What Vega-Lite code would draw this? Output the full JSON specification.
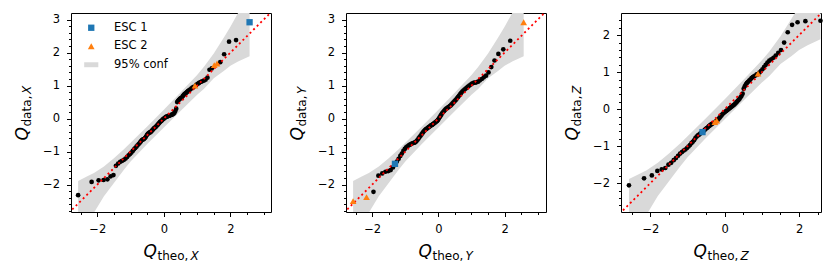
{
  "$schema": "https://vega.github.io/schema/vega-lite/v6.json",
  "padding": {"left": 12, "top": 12, "right": 5, "bottom": 5},
  "background": "white",
  "config": {
    "view": {"stroke": "#000", "strokeWidth": 1},
    "axis": {"grid": false, "domain": false, "tickColor": "#000", "tickWidth": 1, "labelColor": "#000", "labelFont": "DejaVu Sans", "labelFontSize": 11.5, "titleColor": "#000", "titleFont": "DejaVu Sans", "titleFontWeight": "normal"},
    "legend": {"labelFont": "DejaVu Sans", "labelFontSize": 11.5, "labelColor": "#000"}
  },
  "datasets": {
    "band": [
      {"x": -2.576, "lo": -3.62, "hi": -1.89},
      {"x": -2.3, "lo": -3.2, "hi": -1.75},
      {"x": -2.1, "lo": -2.85, "hi": -1.65},
      {"x": -1.8, "lo": -2.35, "hi": -1.45},
      {"x": -1.5, "lo": -1.95, "hi": -1.2},
      {"x": -1.2, "lo": -1.55, "hi": -0.93},
      {"x": -1.0, "lo": -1.3, "hi": -0.73},
      {"x": -0.5, "lo": -0.77, "hi": -0.24},
      {"x": 0, "lo": -0.27, "hi": 0.27},
      {"x": 0.5, "lo": 0.23, "hi": 0.79},
      {"x": 1.0, "lo": 0.72, "hi": 1.32},
      {"x": 1.2, "lo": 0.9, "hi": 1.56},
      {"x": 1.5, "lo": 1.22, "hi": 1.97},
      {"x": 1.8, "lo": 1.44, "hi": 2.45},
      {"x": 2.0, "lo": 1.6, "hi": 2.78},
      {"x": 2.23, "lo": 1.73, "hi": 3.2},
      {"x": 2.576, "lo": 1.89, "hi": 3.8}
    ],
    "diag": [{"x": -3.5, "y": -3.5}, {"x": 3.5, "y": 3.5}],
    "p1": [
      {"x": -2.576, "y": -2.32, "g": "data"}, {"x": -2.17, "y": -1.92, "g": "data"}, {"x": -1.96, "y": -1.87, "g": "data"}, {"x": -1.812, "y": -1.86, "g": "data"}, {"x": -1.695, "y": -1.84, "g": "data"},
      {"x": -1.598, "y": -1.75, "g": "data"}, {"x": -1.514, "y": -1.71, "g": "data"}, {"x": -1.44, "y": -1.43, "g": "data"}, {"x": -1.372, "y": -1.36, "g": "data"}, {"x": -1.311, "y": -1.31, "g": "data"},
      {"x": -1.254, "y": -1.28, "g": "data"}, {"x": -1.2, "y": -1.25, "g": "data"}, {"x": -1.15, "y": -1.21, "g": "data"}, {"x": -1.103, "y": -1.16, "g": "data"}, {"x": -1.058, "y": -1.11, "g": "data"},
      {"x": -1.015, "y": -1.07, "g": "data"}, {"x": -0.974, "y": -1.03, "g": "data"}, {"x": -0.935, "y": -0.98, "g": "data"}, {"x": -0.896, "y": -0.93, "g": "data"}, {"x": -0.86, "y": -0.89, "g": "data"},
      {"x": -0.824, "y": -0.85, "g": "data"}, {"x": -0.789, "y": -0.81, "g": "data"}, {"x": -0.755, "y": -0.77, "g": "data"}, {"x": -0.722, "y": -0.73, "g": "data"}, {"x": -0.69, "y": -0.69, "g": "data"},
      {"x": -0.659, "y": -0.65, "g": "data"}, {"x": -0.628, "y": -0.63, "g": "data"}, {"x": -0.598, "y": -0.62, "g": "data"}, {"x": -0.568, "y": -0.59, "g": "data"}, {"x": -0.539, "y": -0.55, "g": "data"},
      {"x": -0.51, "y": -0.5, "g": "data"}, {"x": -0.482, "y": -0.46, "g": "data"}, {"x": -0.454, "y": -0.44, "g": "data"}, {"x": -0.426, "y": -0.42, "g": "data"}, {"x": -0.399, "y": -0.41, "g": "data"},
      {"x": -0.372, "y": -0.38, "g": "data"}, {"x": -0.345, "y": -0.35, "g": "data"}, {"x": -0.319, "y": -0.32, "g": "data"}, {"x": -0.292, "y": -0.29, "g": "data"}, {"x": -0.266, "y": -0.27, "g": "data"},
      {"x": -0.24, "y": -0.25, "g": "data"}, {"x": -0.215, "y": -0.22, "g": "data"}, {"x": -0.189, "y": -0.19, "g": "data"}, {"x": -0.164, "y": -0.16, "g": "data"}, {"x": -0.138, "y": -0.13, "g": "data"},
      {"x": -0.113, "y": -0.1, "g": "data"}, {"x": -0.088, "y": -0.08, "g": "data"}, {"x": -0.063, "y": -0.06, "g": "data"}, {"x": -0.038, "y": -0.03, "g": "data"}, {"x": -0.013, "y": -0.01, "g": "data"},
      {"x": 0.013, "y": 0.01, "g": "data"}, {"x": 0.038, "y": 0.03, "g": "data"}, {"x": 0.063, "y": 0.05, "g": "data"}, {"x": 0.088, "y": 0.06, "g": "data"}, {"x": 0.113, "y": 0.07, "g": "data"},
      {"x": 0.138, "y": 0.08, "g": "data"}, {"x": 0.164, "y": 0.09, "g": "data"}, {"x": 0.189, "y": 0.1, "g": "data"}, {"x": 0.215, "y": 0.11, "g": "data"}, {"x": 0.24, "y": 0.12, "g": "data"},
      {"x": 0.266, "y": 0.13, "g": "data"}, {"x": 0.292, "y": 0.15, "g": "data"}, {"x": 0.319, "y": 0.18, "g": "data"}, {"x": 0.345, "y": 0.23, "g": "data"}, {"x": 0.372, "y": 0.3, "g": "data"},
      {"x": 0.399, "y": 0.5, "g": "data"}, {"x": 0.426, "y": 0.54, "g": "data"}, {"x": 0.454, "y": 0.57, "g": "data"}, {"x": 0.482, "y": 0.6, "g": "data"}, {"x": 0.51, "y": 0.62, "g": "data"},
      {"x": 0.539, "y": 0.64, "g": "data"}, {"x": 0.568, "y": 0.68, "g": "data"}, {"x": 0.598, "y": 0.72, "g": "data"}, {"x": 0.628, "y": 0.75, "g": "data"}, {"x": 0.659, "y": 0.77, "g": "data"},
      {"x": 0.69, "y": 0.8, "g": "data"}, {"x": 0.722, "y": 0.83, "g": "data"}, {"x": 0.755, "y": 0.86, "g": "data"}, {"x": 0.789, "y": 0.88, "g": "data"}, {"x": 0.824, "y": 0.91, "g": "data"},
      {"x": 0.86, "y": 0.94, "g": "data"}, {"x": 0.896, "y": 0.96, "g": "data"}, {"x": 0.935, "y": 1.0, "g": "ESC 2"}, {"x": 0.974, "y": 1.02, "g": "data"}, {"x": 1.015, "y": 1.05, "g": "data"},
      {"x": 1.058, "y": 1.08, "g": "data"}, {"x": 1.103, "y": 1.11, "g": "data"}, {"x": 1.15, "y": 1.13, "g": "data"}, {"x": 1.2, "y": 1.15, "g": "data"}, {"x": 1.254, "y": 1.18, "g": "data"},
      {"x": 1.311, "y": 1.24, "g": "data"}, {"x": 1.372, "y": 1.48, "g": "data"}, {"x": 1.44, "y": 1.52, "g": "data"}, {"x": 1.514, "y": 1.62, "g": "ESC 2"}, {"x": 1.598, "y": 1.67, "g": "ESC 2"},
      {"x": 1.695, "y": 1.71, "g": "data"}, {"x": 1.812, "y": 1.95, "g": "data"}, {"x": 1.96, "y": 2.33, "g": "data"}, {"x": 2.17, "y": 2.38, "g": "data"}, {"x": 2.576, "y": 2.92, "g": "ESC 1"}
    ],
    "p2": [
      {"x": -2.576, "y": -2.5, "g": "ESC 2"}, {"x": -2.17, "y": -2.38, "g": "ESC 2"}, {"x": -1.96, "y": -2.22, "g": "data"}, {"x": -1.812, "y": -1.73, "g": "data"}, {"x": -1.695, "y": -1.66, "g": "data"},
      {"x": -1.598, "y": -1.61, "g": "data"}, {"x": -1.514, "y": -1.59, "g": "data"}, {"x": -1.44, "y": -1.56, "g": "data"}, {"x": -1.372, "y": -1.48, "g": "data"}, {"x": -1.311, "y": -1.37, "g": "ESC 1"},
      {"x": -1.254, "y": -1.3, "g": "data"}, {"x": -1.2, "y": -1.22, "g": "data"}, {"x": -1.15, "y": -1.13, "g": "data"}, {"x": -1.103, "y": -1.06, "g": "data"}, {"x": -1.058, "y": -0.98, "g": "data"},
      {"x": -1.015, "y": -0.92, "g": "data"}, {"x": -0.974, "y": -0.87, "g": "data"}, {"x": -0.935, "y": -0.84, "g": "data"}, {"x": -0.896, "y": -0.81, "g": "data"}, {"x": -0.86, "y": -0.79, "g": "data"},
      {"x": -0.824, "y": -0.77, "g": "data"}, {"x": -0.789, "y": -0.75, "g": "data"}, {"x": -0.755, "y": -0.74, "g": "data"}, {"x": -0.722, "y": -0.73, "g": "data"}, {"x": -0.69, "y": -0.71, "g": "data"},
      {"x": -0.659, "y": -0.68, "g": "data"}, {"x": -0.628, "y": -0.64, "g": "data"}, {"x": -0.598, "y": -0.6, "g": "data"}, {"x": -0.568, "y": -0.56, "g": "data"}, {"x": -0.539, "y": -0.52, "g": "data"},
      {"x": -0.51, "y": -0.48, "g": "data"}, {"x": -0.482, "y": -0.44, "g": "data"}, {"x": -0.454, "y": -0.4, "g": "data"}, {"x": -0.426, "y": -0.37, "g": "data"}, {"x": -0.399, "y": -0.34, "g": "data"},
      {"x": -0.372, "y": -0.32, "g": "data"}, {"x": -0.345, "y": -0.3, "g": "data"}, {"x": -0.319, "y": -0.28, "g": "data"}, {"x": -0.292, "y": -0.26, "g": "data"}, {"x": -0.266, "y": -0.24, "g": "data"},
      {"x": -0.24, "y": -0.22, "g": "data"}, {"x": -0.215, "y": -0.2, "g": "data"}, {"x": -0.189, "y": -0.19, "g": "data"}, {"x": -0.164, "y": -0.17, "g": "data"}, {"x": -0.138, "y": -0.15, "g": "data"},
      {"x": -0.113, "y": -0.13, "g": "data"}, {"x": -0.088, "y": -0.11, "g": "data"}, {"x": -0.063, "y": -0.09, "g": "data"}, {"x": -0.038, "y": -0.07, "g": "data"}, {"x": -0.013, "y": -0.04, "g": "data"},
      {"x": 0.013, "y": 0.0, "g": "data"}, {"x": 0.038, "y": 0.04, "g": "data"}, {"x": 0.063, "y": 0.08, "g": "data"}, {"x": 0.088, "y": 0.12, "g": "data"}, {"x": 0.113, "y": 0.16, "g": "data"},
      {"x": 0.138, "y": 0.19, "g": "data"}, {"x": 0.164, "y": 0.22, "g": "data"}, {"x": 0.189, "y": 0.25, "g": "data"}, {"x": 0.215, "y": 0.28, "g": "data"}, {"x": 0.24, "y": 0.3, "g": "data"},
      {"x": 0.266, "y": 0.32, "g": "data"}, {"x": 0.292, "y": 0.34, "g": "data"}, {"x": 0.319, "y": 0.36, "g": "data"}, {"x": 0.345, "y": 0.38, "g": "data"}, {"x": 0.372, "y": 0.4, "g": "data"},
      {"x": 0.399, "y": 0.43, "g": "data"}, {"x": 0.426, "y": 0.46, "g": "data"}, {"x": 0.454, "y": 0.49, "g": "data"}, {"x": 0.482, "y": 0.52, "g": "data"}, {"x": 0.51, "y": 0.55, "g": "data"},
      {"x": 0.539, "y": 0.58, "g": "data"}, {"x": 0.568, "y": 0.62, "g": "data"}, {"x": 0.598, "y": 0.66, "g": "data"}, {"x": 0.628, "y": 0.7, "g": "data"}, {"x": 0.659, "y": 0.74, "g": "data"},
      {"x": 0.69, "y": 0.78, "g": "data"}, {"x": 0.722, "y": 0.82, "g": "data"}, {"x": 0.755, "y": 0.85, "g": "data"}, {"x": 0.789, "y": 0.88, "g": "data"}, {"x": 0.824, "y": 0.91, "g": "data"},
      {"x": 0.86, "y": 0.94, "g": "data"}, {"x": 0.896, "y": 0.97, "g": "data"}, {"x": 0.935, "y": 1.0, "g": "data"}, {"x": 0.974, "y": 1.03, "g": "data"}, {"x": 1.015, "y": 1.06, "g": "data"},
      {"x": 1.058, "y": 1.08, "g": "data"}, {"x": 1.103, "y": 1.09, "g": "data"}, {"x": 1.15, "y": 1.1, "g": "data"}, {"x": 1.2, "y": 1.12, "g": "data"}, {"x": 1.254, "y": 1.16, "g": "data"},
      {"x": 1.311, "y": 1.2, "g": "data"}, {"x": 1.372, "y": 1.25, "g": "data"}, {"x": 1.44, "y": 1.3, "g": "data"}, {"x": 1.514, "y": 1.4, "g": "data"}, {"x": 1.598, "y": 1.56, "g": "data"},
      {"x": 1.695, "y": 1.76, "g": "data"}, {"x": 1.812, "y": 1.96, "g": "data"}, {"x": 1.96, "y": 2.1, "g": "data"}, {"x": 2.17, "y": 2.36, "g": "data"}, {"x": 2.576, "y": 2.92, "g": "ESC 2"}
    ],
    "p3": [
      {"x": -2.576, "y": -2.06, "g": "data"}, {"x": -2.17, "y": -1.87, "g": "data"}, {"x": -1.96, "y": -1.79, "g": "data"}, {"x": -1.812, "y": -1.67, "g": "data"}, {"x": -1.695, "y": -1.63, "g": "data"},
      {"x": -1.598, "y": -1.59, "g": "data"}, {"x": -1.514, "y": -1.5, "g": "data"}, {"x": -1.44, "y": -1.45, "g": "data"}, {"x": -1.372, "y": -1.38, "g": "data"}, {"x": -1.311, "y": -1.32, "g": "data"},
      {"x": -1.254, "y": -1.26, "g": "data"}, {"x": -1.2, "y": -1.2, "g": "data"}, {"x": -1.15, "y": -1.16, "g": "data"}, {"x": -1.103, "y": -1.12, "g": "data"}, {"x": -1.058, "y": -1.09, "g": "data"},
      {"x": -1.015, "y": -1.05, "g": "data"}, {"x": -0.974, "y": -1.01, "g": "data"}, {"x": -0.935, "y": -0.97, "g": "data"}, {"x": -0.896, "y": -0.92, "g": "data"}, {"x": -0.86, "y": -0.88, "g": "data"},
      {"x": -0.824, "y": -0.84, "g": "data"}, {"x": -0.789, "y": -0.78, "g": "data"}, {"x": -0.755, "y": -0.74, "g": "data"}, {"x": -0.722, "y": -0.71, "g": "data"}, {"x": -0.69, "y": -0.69, "g": "data"},
      {"x": -0.659, "y": -0.66, "g": "data"}, {"x": -0.628, "y": -0.64, "g": "data"}, {"x": -0.598, "y": -0.62, "g": "ESC 1"}, {"x": -0.568, "y": -0.59, "g": "data"}, {"x": -0.539, "y": -0.56, "g": "data"},
      {"x": -0.51, "y": -0.53, "g": "data"}, {"x": -0.482, "y": -0.51, "g": "data"}, {"x": -0.454, "y": -0.49, "g": "data"}, {"x": -0.426, "y": -0.46, "g": "data"}, {"x": -0.399, "y": -0.44, "g": "data"},
      {"x": -0.372, "y": -0.42, "g": "data"}, {"x": -0.345, "y": -0.4, "g": "data"}, {"x": -0.319, "y": -0.38, "g": "data"}, {"x": -0.292, "y": -0.37, "g": "data"}, {"x": -0.266, "y": -0.35, "g": "ESC 2"},
      {"x": -0.24, "y": -0.33, "g": "data"}, {"x": -0.215, "y": -0.31, "g": "ESC 2"}, {"x": -0.189, "y": -0.29, "g": "data"}, {"x": -0.164, "y": -0.26, "g": "data"}, {"x": -0.138, "y": -0.23, "g": "data"},
      {"x": -0.113, "y": -0.2, "g": "data"}, {"x": -0.088, "y": -0.17, "g": "data"}, {"x": -0.063, "y": -0.14, "g": "data"}, {"x": -0.038, "y": -0.11, "g": "data"}, {"x": -0.013, "y": -0.09, "g": "data"},
      {"x": 0.013, "y": -0.07, "g": "data"}, {"x": 0.038, "y": -0.05, "g": "data"}, {"x": 0.063, "y": -0.03, "g": "data"}, {"x": 0.088, "y": -0.01, "g": "data"}, {"x": 0.113, "y": 0.01, "g": "data"},
      {"x": 0.138, "y": 0.03, "g": "data"}, {"x": 0.164, "y": 0.05, "g": "data"}, {"x": 0.189, "y": 0.07, "g": "data"}, {"x": 0.215, "y": 0.09, "g": "data"}, {"x": 0.24, "y": 0.11, "g": "data"},
      {"x": 0.266, "y": 0.13, "g": "data"}, {"x": 0.292, "y": 0.16, "g": "data"}, {"x": 0.319, "y": 0.19, "g": "data"}, {"x": 0.345, "y": 0.22, "g": "data"}, {"x": 0.372, "y": 0.25, "g": "data"},
      {"x": 0.399, "y": 0.28, "g": "data"}, {"x": 0.426, "y": 0.32, "g": "data"}, {"x": 0.454, "y": 0.36, "g": "data"}, {"x": 0.482, "y": 0.42, "g": "data"}, {"x": 0.51, "y": 0.55, "g": "data"},
      {"x": 0.539, "y": 0.62, "g": "data"}, {"x": 0.568, "y": 0.67, "g": "data"}, {"x": 0.598, "y": 0.71, "g": "data"}, {"x": 0.628, "y": 0.74, "g": "data"}, {"x": 0.659, "y": 0.77, "g": "data"},
      {"x": 0.69, "y": 0.8, "g": "data"}, {"x": 0.722, "y": 0.84, "g": "data"}, {"x": 0.755, "y": 0.87, "g": "data"}, {"x": 0.789, "y": 0.89, "g": "data"}, {"x": 0.824, "y": 0.91, "g": "data"},
      {"x": 0.86, "y": 0.94, "g": "data"}, {"x": 0.896, "y": 0.96, "g": "ESC 2"}, {"x": 0.935, "y": 0.99, "g": "data"}, {"x": 0.974, "y": 1.03, "g": "data"}, {"x": 1.015, "y": 1.08, "g": "data"},
      {"x": 1.058, "y": 1.14, "g": "data"}, {"x": 1.103, "y": 1.2, "g": "data"}, {"x": 1.15, "y": 1.26, "g": "data"}, {"x": 1.2, "y": 1.31, "g": "data"}, {"x": 1.254, "y": 1.35, "g": "data"},
      {"x": 1.311, "y": 1.39, "g": "data"}, {"x": 1.372, "y": 1.45, "g": "data"}, {"x": 1.44, "y": 1.52, "g": "data"}, {"x": 1.514, "y": 1.6, "g": "data"}, {"x": 1.598, "y": 1.8, "g": "data"},
      {"x": 1.695, "y": 2.08, "g": "data"}, {"x": 1.812, "y": 2.28, "g": "data"}, {"x": 1.96, "y": 2.35, "g": "data"}, {"x": 2.17, "y": 2.38, "g": "data"}, {"x": 2.576, "y": 2.39, "g": "data"}
    ]
  },
  "bounds": "flush",
  "spacing": 75,
  "resolve": {
    "scale": {"color": "independent", "shape": "independent", "size": "independent"},
    "legend": {"color": "independent", "shape": "independent", "size": "independent"}
  },
  "hconcat": [
    {
      "width": 200, "height": 199,
      "resolve": {"axis": {"x": "independent", "y": "independent"}},
      "layer": [
        {
          "data": {"name": "band"},
          "mark": {"type": "area", "color": "#d9d9d9", "opacity": 1, "clip": true},
          "encoding": {
            "x": {"field": "x", "type": "quantitative", "scale": {"domain": [-2.79, 3.22], "nice": false, "zero": false},
              "axis": {"orient": "bottom", "values": [-2, 0, 2], "tickSize": 4.5, "labelPadding": 6.5, "title": "Q", "titleFontSize": 17, "titleFontStyle": "italic", "titleAlign": "left", "titleBaseline": "alphabetic", "titleAngle": 0, "titleX": 72, "titleY": 44}},
            "y": {"field": "lo", "type": "quantitative", "scale": {"domain": [-2.83, 3.2], "nice": false, "zero": false},
              "axis": {"orient": "left", "values": [-2, -1, 0, 1, 2, 3], "tickSize": 4.5, "labelPadding": 7, "title": "Q", "titleFontSize": 17, "titleFontStyle": "italic", "titleAlign": "left", "titleBaseline": "alphabetic", "titleAngle": -90, "titleX": -44, "titleY": 127}},
            "y2": {"field": "hi"}
          }
        },
        {
          "data": {"name": "p1"},
          "transform": [{"filter": "datum.g === 'data'"}],
          "mark": {"type": "circle", "color": "#000", "size": 22, "opacity": 1},
          "encoding": {
            "x": {"field": "x", "type": "quantitative",
              "axis": {"orient": "bottom", "values": [-2.5, -1.5, -1, -0.5, 0.5, 1, 1.5, 2.5, 3], "tickSize": 2.5, "labels": false, "title": "theo,", "titleFontSize": 12, "titleFontStyle": "normal", "titleAlign": "left", "titleBaseline": "alphabetic", "titleAngle": 0, "titleX": 86, "titleY": 47}},
            "y": {"field": "y", "type": "quantitative",
              "axis": {"orient": "left", "values": [-2.8, -2.6, -2.4, -2.2, -1.8, -1.6, -1.4, -1.2, -0.8, -0.6, -0.4, -0.2, 0.2, 0.4, 0.6, 0.8, 1.2, 1.4, 1.6, 1.8, 2.2, 2.4, 2.6, 2.8], "tickSize": 2.5, "labels": false, "title": "data,", "titleFontSize": 12, "titleFontStyle": "normal", "titleAlign": "left", "titleBaseline": "alphabetic", "titleAngle": -90, "titleX": -41, "titleY": 113}}
          }
        },
        {
          "data": {"name": "diag"},
          "mark": {"type": "line", "color": "#ff0000", "strokeWidth": 1.8, "strokeDash": [2, 3], "clip": true},
          "encoding": {
            "x": {"field": "x", "type": "quantitative",
              "axis": {"orient": "bottom", "ticks": false, "labels": false, "title": "X", "titleFontSize": 12, "titleFontStyle": "italic", "titleAlign": "left", "titleBaseline": "alphabetic", "titleAngle": 0, "titleX": 119, "titleY": 47}},
            "y": {"field": "y", "type": "quantitative",
              "axis": {"orient": "left", "ticks": false, "labels": false, "title": "X", "titleFontSize": 12, "titleFontStyle": "italic", "titleAlign": "left", "titleBaseline": "alphabetic", "titleAngle": -90, "titleX": -41, "titleY": 80.5}}
          }
        },
        {
          "data": {"name": "p1"},
          "transform": [{"filter": "datum.g !== 'data'"}],
          "mark": {"type": "point", "filled": true, "opacity": 1, "strokeWidth": 0},
          "encoding": {
            "x": {"field": "x", "type": "quantitative", "axis": null},
            "y": {"field": "y", "type": "quantitative", "axis": null},
            "color": {"field": "g", "type": "nominal", "scale": {"domain": ["ESC 1", "ESC 2", "95% conf"], "range": ["#1f77b4", "#ff7f0e", "#d9d9d9"]},
              "legend": {"orient": "none", "legendX": 14.5, "legendY": 9, "title": null, "padding": 0, "labelOffset": 17, "rowPadding": 5.5, "symbolStrokeWidth": 0}},
            "shape": {"field": "g", "type": "nominal", "scale": {"domain": ["ESC 1", "ESC 2", "95% conf"], "range": ["square", "triangle-up", "M-2,-0.7H2V0.7H-2Z"]},
              "legend": {"orient": "none", "legendX": 14.5, "legendY": 9, "title": null, "padding": 0, "labelOffset": 17, "rowPadding": 5.5, "symbolStrokeWidth": 0}},
            "size": {"field": "g", "type": "nominal", "scale": {"domain": ["ESC 1", "ESC 2", "95% conf"], "range": [40, 50, 132]},
              "legend": {"orient": "none", "legendX": 14.5, "legendY": 9, "title": null, "padding": 0, "labelOffset": 17, "rowPadding": 5.5, "symbolStrokeWidth": 0}}
          }
        }
      ]
    },
    {
      "width": 200, "height": 199,
      "resolve": {"axis": {"x": "independent", "y": "independent"}},
      "layer": [
        {
          "data": {"name": "band"},
          "mark": {"type": "area", "color": "#d9d9d9", "opacity": 1, "clip": true},
          "encoding": {
            "x": {"field": "x", "type": "quantitative", "scale": {"domain": [-2.79, 3.25], "nice": false, "zero": false},
              "axis": {"orient": "bottom", "values": [-2, 0, 2], "tickSize": 4.5, "labelPadding": 6.5, "title": "Q", "titleFontSize": 17, "titleFontStyle": "italic", "titleAlign": "left", "titleBaseline": "alphabetic", "titleAngle": 0, "titleX": 72, "titleY": 44}},
            "y": {"field": "lo", "type": "quantitative", "scale": {"domain": [-2.83, 3.2], "nice": false, "zero": false},
              "axis": {"orient": "left", "values": [-2, -1, 0, 1, 2, 3], "tickSize": 4.5, "labelPadding": 7, "title": "Q", "titleFontSize": 17, "titleFontStyle": "italic", "titleAlign": "left", "titleBaseline": "alphabetic", "titleAngle": -90, "titleX": -44, "titleY": 127}},
            "y2": {"field": "hi"}
          }
        },
        {
          "data": {"name": "p2"},
          "transform": [{"filter": "datum.g === 'data'"}],
          "mark": {"type": "circle", "color": "#000", "size": 22, "opacity": 1},
          "encoding": {
            "x": {"field": "x", "type": "quantitative",
              "axis": {"orient": "bottom", "values": [-2.5, -1.5, -1, -0.5, 0.5, 1, 1.5, 2.5, 3], "tickSize": 2.5, "labels": false, "title": "theo,", "titleFontSize": 12, "titleFontStyle": "normal", "titleAlign": "left", "titleBaseline": "alphabetic", "titleAngle": 0, "titleX": 86, "titleY": 47}},
            "y": {"field": "y", "type": "quantitative",
              "axis": {"orient": "left", "values": [-2.8, -2.6, -2.4, -2.2, -1.8, -1.6, -1.4, -1.2, -0.8, -0.6, -0.4, -0.2, 0.2, 0.4, 0.6, 0.8, 1.2, 1.4, 1.6, 1.8, 2.2, 2.4, 2.6, 2.8], "tickSize": 2.5, "labels": false, "title": "data,", "titleFontSize": 12, "titleFontStyle": "normal", "titleAlign": "left", "titleBaseline": "alphabetic", "titleAngle": -90, "titleX": -41, "titleY": 113}}
          }
        },
        {
          "data": {"name": "diag"},
          "mark": {"type": "line", "color": "#ff0000", "strokeWidth": 1.8, "strokeDash": [2, 3], "clip": true},
          "encoding": {
            "x": {"field": "x", "type": "quantitative",
              "axis": {"orient": "bottom", "ticks": false, "labels": false, "title": "Y", "titleFontSize": 12, "titleFontStyle": "italic", "titleAlign": "left", "titleBaseline": "alphabetic", "titleAngle": 0, "titleX": 119, "titleY": 47}},
            "y": {"field": "y", "type": "quantitative",
              "axis": {"orient": "left", "ticks": false, "labels": false, "title": "Y", "titleFontSize": 12, "titleFontStyle": "italic", "titleAlign": "left", "titleBaseline": "alphabetic", "titleAngle": -90, "titleX": -41, "titleY": 80.5}}
          }
        },
        {
          "data": {"name": "p2"},
          "transform": [{"filter": "datum.g !== 'data'"}],
          "mark": {"type": "point", "filled": true, "opacity": 1, "strokeWidth": 0},
          "encoding": {
            "x": {"field": "x", "type": "quantitative", "axis": null},
            "y": {"field": "y", "type": "quantitative", "axis": null},
            "color": {"field": "g", "type": "nominal", "scale": {"domain": ["ESC 1", "ESC 2", "95% conf"], "range": ["#1f77b4", "#ff7f0e", "#d9d9d9"]}, "legend": null},
            "shape": {"field": "g", "type": "nominal", "scale": {"domain": ["ESC 1", "ESC 2", "95% conf"], "range": ["square", "triangle-up", "M-2,-0.7H2V0.7H-2Z"]}, "legend": null},
            "size": {"field": "g", "type": "nominal", "scale": {"domain": ["ESC 1", "ESC 2", "95% conf"], "range": [40, 50, 132]}, "legend": null}
          }
        }
      ]
    },
    {
      "width": 200, "height": 199,
      "resolve": {"axis": {"x": "independent", "y": "independent"}},
      "layer": [
        {
          "data": {"name": "band"},
          "mark": {"type": "area", "color": "#d9d9d9", "opacity": 1, "clip": true},
          "encoding": {
            "x": {"field": "x", "type": "quantitative", "scale": {"domain": [-2.79, 2.59], "nice": false, "zero": false},
              "axis": {"orient": "bottom", "values": [-2, 0, 2], "tickSize": 4.5, "labelPadding": 6.5, "title": "Q", "titleFontSize": 17, "titleFontStyle": "italic", "titleAlign": "left", "titleBaseline": "alphabetic", "titleAngle": 0, "titleX": 72, "titleY": 44}},
            "y": {"field": "lo", "type": "quantitative", "scale": {"domain": [-2.78, 2.6], "nice": false, "zero": false},
              "axis": {"orient": "left", "values": [-2, -1, 0, 1, 2], "tickSize": 4.5, "labelPadding": 7, "title": "Q", "titleFontSize": 17, "titleFontStyle": "italic", "titleAlign": "left", "titleBaseline": "alphabetic", "titleAngle": -90, "titleX": -44, "titleY": 127}},
            "y2": {"field": "hi"}
          }
        },
        {
          "data": {"name": "p3"},
          "transform": [{"filter": "datum.g === 'data'"}],
          "mark": {"type": "circle", "color": "#000", "size": 22, "opacity": 1},
          "encoding": {
            "x": {"field": "x", "type": "quantitative",
              "axis": {"orient": "bottom", "values": [-2.5, -1.5, -1, -0.5, 0.5, 1, 1.5, 2.5], "tickSize": 2.5, "labels": false, "title": "theo,", "titleFontSize": 12, "titleFontStyle": "normal", "titleAlign": "left", "titleBaseline": "alphabetic", "titleAngle": 0, "titleX": 86, "titleY": 47}},
            "y": {"field": "y", "type": "quantitative",
              "axis": {"orient": "left", "values": [-2.6, -2.4, -2.2, -1.8, -1.6, -1.4, -1.2, -0.8, -0.6, -0.4, -0.2, 0.2, 0.4, 0.6, 0.8, 1.2, 1.4, 1.6, 1.8, 2.2, 2.4], "tickSize": 2.5, "labels": false, "title": "data,", "titleFontSize": 12, "titleFontStyle": "normal", "titleAlign": "left", "titleBaseline": "alphabetic", "titleAngle": -90, "titleX": -41, "titleY": 113}}
          }
        },
        {
          "data": {"name": "diag"},
          "mark": {"type": "line", "color": "#ff0000", "strokeWidth": 1.8, "strokeDash": [2, 3], "clip": true},
          "encoding": {
            "x": {"field": "x", "type": "quantitative",
              "axis": {"orient": "bottom", "ticks": false, "labels": false, "title": "Z", "titleFontSize": 12, "titleFontStyle": "italic", "titleAlign": "left", "titleBaseline": "alphabetic", "titleAngle": 0, "titleX": 119, "titleY": 47}},
            "y": {"field": "y", "type": "quantitative",
              "axis": {"orient": "left", "ticks": false, "labels": false, "title": "Z", "titleFontSize": 12, "titleFontStyle": "italic", "titleAlign": "left", "titleBaseline": "alphabetic", "titleAngle": -90, "titleX": -41, "titleY": 80.5}}
          }
        },
        {
          "data": {"name": "p3"},
          "transform": [{"filter": "datum.g !== 'data'"}],
          "mark": {"type": "point", "filled": true, "opacity": 1, "strokeWidth": 0},
          "encoding": {
            "x": {"field": "x", "type": "quantitative", "axis": null},
            "y": {"field": "y", "type": "quantitative", "axis": null},
            "color": {"field": "g", "type": "nominal", "scale": {"domain": ["ESC 1", "ESC 2", "95% conf"], "range": ["#1f77b4", "#ff7f0e", "#d9d9d9"]}, "legend": null},
            "shape": {"field": "g", "type": "nominal", "scale": {"domain": ["ESC 1", "ESC 2", "95% conf"], "range": ["square", "triangle-up", "M-2,-0.7H2V0.7H-2Z"]}, "legend": null},
            "size": {"field": "g", "type": "nominal", "scale": {"domain": ["ESC 1", "ESC 2", "95% conf"], "range": [40, 50, 132]}, "legend": null}
          }
        }
      ]
    }
  ]
}
